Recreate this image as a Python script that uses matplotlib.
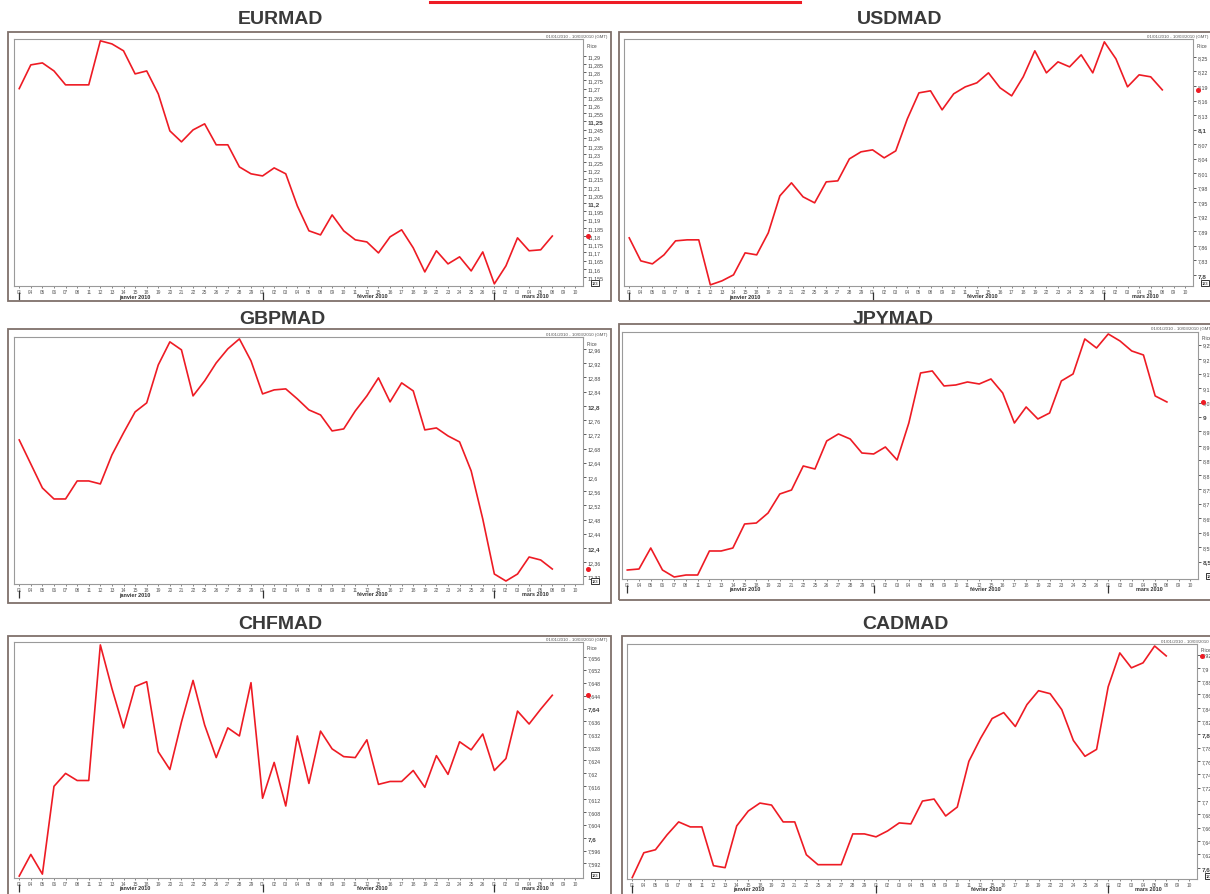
import numpy as np
import pandas as pd
import matplotlib
matplotlib.use("Agg")
import matplotlib.pyplot as plt
from matplotlib.patches import Rectangle
from matplotlib.lines import Line2D
from matplotlib.transforms import offset_copy

W, H = 1210, 895
RED = "#ee1b24"
FRAME = "#7f716b"
TEXT = "#3a3a3a"

plt.rcParams["font.family"] = ["Liberation Sans", "DejaVu Sans"]

# trading days shown on the x axis
days = pd.bdate_range("2010-01-01", "2010-03-10")
day_labels = [d.strftime("%d") for d in days]
month_names = ["janvier 2010", "février 2010", "mars 2010"]
date_range_label = "01/01/2010 - 10/03/2010 (GMT)"

# daily closes, 01/01 -> 08/03
eurmad = [11.270, 11.2845, 11.2857, 11.2808, 11.2723, 11.2723, 11.2723, 11.2992, 11.2973, 11.2931,
          11.279, 11.2808, 11.2668, 11.2442, 11.2375, 11.2448, 11.2485, 11.2357, 11.2357, 11.2222,
          11.218, 11.2167, 11.2216, 11.218, 11.1984, 11.1832, 11.1807, 11.1929, 11.1832, 11.1777,
          11.1764, 11.1697, 11.1795, 11.1838, 11.1728, 11.1581, 11.171, 11.163, 11.1673, 11.1587,
          11.1703, 11.1508, 11.1618, 11.1789, 11.171, 11.1716, 11.180]
usdmad = [7.8764, 7.8289, 7.8227, 7.8413, 7.8702, 7.8723, 7.8723, 7.7793, 7.7876, 7.80,
          7.8454, 7.8413, 7.8867, 7.9631, 7.99, 7.9611, 7.9487, 7.992, 7.9941, 8.0395,
          8.054, 8.0581, 8.0416, 8.056, 8.1221, 8.1758, 8.18, 8.1407, 8.1738, 8.1882,
          8.1965, 8.2171, 8.1862, 8.1696, 8.2089, 8.2626, 8.2171, 8.2398, 8.2295, 8.2543,
          8.2171, 8.2811, 8.246, 8.1882, 8.213, 8.2089, 8.182]
gbpmad = [12.7042, 12.6366, 12.569, 12.538, 12.538, 12.5887, 12.5887, 12.5803, 12.662, 12.724,
          12.7831, 12.8085, 12.9155, 12.9803, 12.9578, 12.8282, 12.8704, 12.9211, 12.9606, 12.9887,
          12.9268, 12.8338, 12.8451, 12.8479, 12.8197, 12.7887, 12.7746, 12.7296, 12.7352, 12.7859,
          12.8282, 12.8789, 12.8113, 12.8648, 12.8423, 12.7324, 12.738, 12.7155, 12.6986, 12.6169,
          12.4817, 12.3267, 12.307, 12.3267, 12.3746, 12.3662, 12.3408]
jpymad = [8.4706, 8.4741, 8.5467, 8.4706, 8.4464, 8.4533, 8.4533, 8.5364, 8.5364, 8.5467,
          8.6298, 8.6332, 8.6678, 8.7336, 8.7474, 8.8305, 8.8201, 8.917, 8.9412, 8.9239,
          8.8754, 8.872, 8.8962, 8.8512, 8.9792, 9.1522, 9.1592, 9.1073, 9.1107, 9.1211,
          9.1142, 9.1315, 9.083, 8.9792, 9.0346, 8.9931, 9.0138, 9.1246, 9.1488, 9.2699,
          9.2387, 9.2872, 9.263, 9.2284, 9.2145, 9.0727, 9.0519]
chfmad = [7.5881, 7.5948, 7.5887, 7.6159, 7.6199, 7.6177, 7.6177, 7.6597, 7.6462, 7.634,
          7.6468, 7.6483, 7.6266, 7.6211, 7.6358, 7.6487, 7.6349, 7.6248, 7.634, 7.6315,
          7.648, 7.6122, 7.6233, 7.6098, 7.6315, 7.6168, 7.633, 7.6275, 7.6251, 7.6248,
          7.6303, 7.6165, 7.6174, 7.6174, 7.6208, 7.6156, 7.6254, 7.6196, 7.6297, 7.6272,
          7.6321, 7.6208, 7.6245, 7.6392, 7.6352, 7.6398, 7.6441]
cadmad = [7.5851, 7.6224, 7.6269, 7.6493, 7.6687, 7.6612, 7.6612, 7.603, 7.6, 7.6627,
          7.6851, 7.697, 7.694, 7.6687, 7.6687, 7.6194, 7.6045, 7.6045, 7.6045, 7.6507,
          7.6507, 7.6463, 7.6552, 7.6672, 7.6657, 7.70, 7.703, 7.6776, 7.691, 7.7597,
          7.794, 7.8239, 7.8328, 7.8119, 7.8448, 7.8657, 7.8612, 7.8373, 7.791, 7.7672,
          7.7776, 7.8716, 7.9224, 7.90, 7.9075, 7.9328, 7.9179]

# layout of each chart block, in pixels (x0, y0, x1, y1 from the top-left)
panels = [
    dict(name="EURMAD", values=eurmad, ticks=(11.155, 11.29, 0.005), ylim=(11.1495, 11.3003),
         inner=(14, 40, 583, 287), frame=(8, 33, 611, 302), title=(280, 19), stamp=(607, 37)),
    dict(name="USDMAD", values=usdmad, ticks=(7.80, 8.25, 0.03), ylim=(7.777, 8.287),
         inner=(624, 40, 1193, 287), frame=(619, 33, 1215, 302), title=(900, 19), stamp=(1208, 37)),
    dict(name="GBPMAD", values=gbpmad, ticks=(12.32, 12.96, 0.04), ylim=(12.2986, 12.994),
         inner=(14, 338, 583, 585), frame=(8, 330, 611, 604), title=(282, 319), stamp=(607, 335)),
    dict(name="JPYMAD", values=jpymad, ticks=(8.50, 9.25, 0.05), ylim=(8.4395, 9.294),
         inner=(622, 333, 1198, 580), frame=(619, 325, 1215, 601), title=(893, 319), stamp=(1212, 329)),
    dict(name="CHFMAD", values=chfmad, ticks=(7.592, 7.656, 0.004), ylim=(7.5875, 7.6606),
         inner=(14, 643, 583, 879), frame=(8, 637, 611, 900), title=(280, 625), stamp=(607, 640)),
    dict(name="CADMAD", values=cadmad, ticks=(7.60, 7.92, 0.02), ylim=(7.583, 7.9358),
         inner=(627, 645, 1197, 880), frame=(622, 637, 1215, 900), title=(905, 625), stamp=(1222, 642)),
]


def fig_box(x0, y0, x1, y1):
    return [x0 / W, 1 - y1 / H, (x1 - x0) / W, (y1 - y0) / H]


def price_label(v):
    return f"{v:.4f}".rstrip("0").rstrip(".").replace(".", ",")


def draw_panel(fig, p):
    fx, fy, fw, fh = fig_box(*p["frame"])
    fig.add_artist(Rectangle((fx, fy), fw, fh, transform=fig.transFigure,
                             fill=False, ec=FRAME, lw=1.3))
    fig.text(p["title"][0] / W, 1 - p["title"][1] / H, p["name"], ha="center", va="center",
             fontsize=14, fontweight="bold", color=TEXT)
    fig.text(p["stamp"][0] / W, 1 - p["stamp"][1] / H, date_range_label, ha="right",
             va="center", fontsize=3.2, color="#555555")

    ax = fig.add_axes(fig_box(*p["inner"]))
    values = p["values"]
    ax.plot(np.arange(len(values)), values, color=RED, lw=1.2)
    ax.set_xlim(-0.45, 48.65)
    ax.set_ylim(*p["ylim"])
    for s in ax.spines.values():
        s.set_color("#9a9a9a")
        s.set_linewidth(0.8)

    # price scale on the right, bold every ten steps
    lo, hi, step = p["ticks"]
    n = int(round((hi - lo) / step))
    ticks = [round(lo + k * step, 4) for k in range(n + 1)]
    ax.yaxis.tick_right()
    ax.set_yticks(ticks)
    ax.set_yticklabels([price_label(t) for t in ticks])
    ax.tick_params(axis="y", direction="out", length=2.5, width=0.6, pad=1,
                   labelsize=3.8, colors="#444444")
    big = 10 * step
    for t, lab in zip(ticks, ax.get_yticklabels()):
        if abs(t / big - round(t / big)) < 1e-6:
            lab.set_fontweight("bold")
            lab.set_fontsize(4.6)

    ax.plot(1.008, values[-1], "o", ms=2.6, color=RED,
            transform=ax.get_yaxis_transform(), clip_on=False)
    ax.annotate("Price", xy=(1, 1), xycoords="axes fraction", xytext=(4, -6),
                textcoords="offset pixels", fontsize=3.3, ha="left", va="center", color="#444444")
    ax.annotate("123", xy=(1, 0), xycoords="axes fraction", xytext=(12, 3),
                textcoords="offset pixels", fontsize=2.8, ha="center", va="center",
                bbox=dict(boxstyle="square,pad=0.3", fc="white", ec="#333333", lw=0.7))

    # day ticks and month captions
    ax.set_xticks(range(len(days)))
    ax.set_xticklabels(day_labels)
    ax.tick_params(axis="x", direction="out", length=1.5, width=0.5, pad=1,
                   labelsize=3.4, colors="#555555")
    starts = [i for i in range(len(days)) if i == 0 or days[i].month != days[i - 1].month]
    bounds = starts + [len(days)]
    below = offset_copy(ax.get_xaxis_transform(), fig=fig, y=-10, units="dots")
    for k, month in enumerate(month_names):
        cx = (bounds[k] + bounds[k + 1] - 1) / 2
        ax.text(cx, 0, month, transform=below, ha="center", va="center",
                fontsize=4, fontweight="bold", color="#333333")
        ax.plot(bounds[k], 0, marker="|", ms=6, mew=0.9, color="#333333",
                transform=below, clip_on=False)
    return ax


fig = plt.figure(figsize=(W / 100, H / 100), dpi=100)
fig.add_artist(Line2D([430 / W, 800 / W], [1 - 3 / H, 1 - 3 / H], color=RED, lw=2.2))
for p in panels:
    draw_panel(fig, p)

fig.savefig("out.png", dpi=100)
